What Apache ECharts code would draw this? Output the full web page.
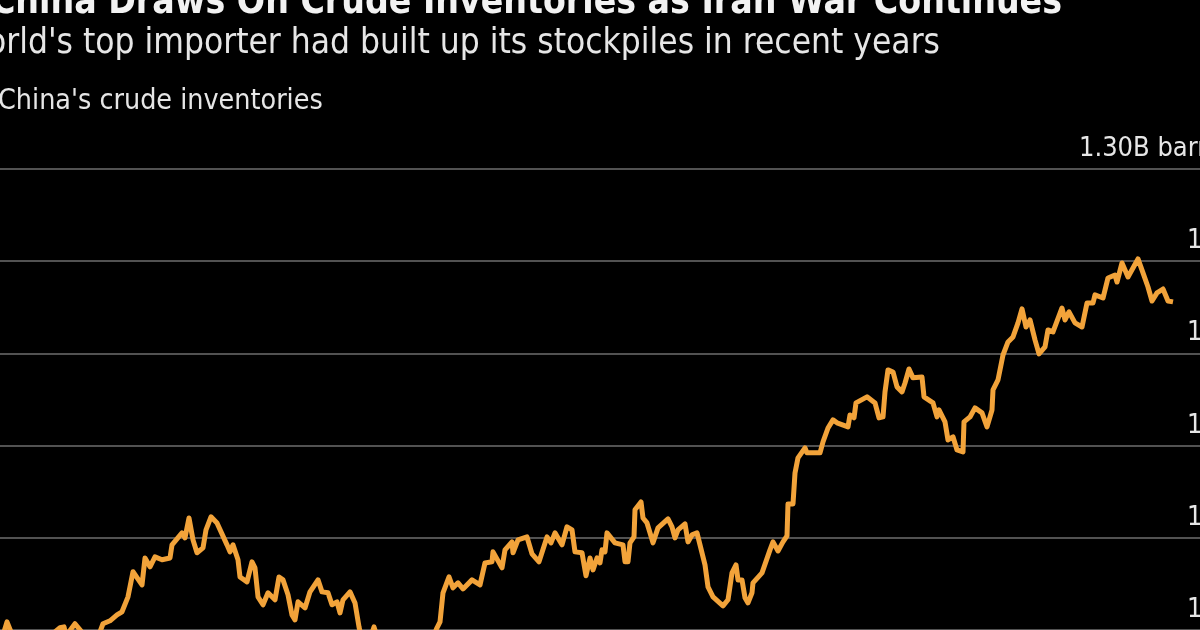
<!DOCTYPE html>
<html lang="en">
<head>
    <meta charset="utf-8">
    <title>China Draws On Crude Inventories</title>
    <script src="https://cdn.jsdelivr.net/npm/echarts@6/dist/echarts.min.js"></script>
    <style>
        html, body { margin: 0; padding: 0; background: #000; overflow: hidden; }
        #main { width: 1200px; height: 630px; }
    </style>
</head>
<body>
    <div id="main"></div>
    <script type="text/javascript">
    var titleText = "China Draws On Crude Inventories as Iran War Continues";
    var subtitleText = "The world's top importer had built up its stockpiles in recent years";
    var seriesName = "China's crude inventories";

    // y axis, million barrels
    var tickValues = [1300, 1250, 1200, 1150, 1100, 1050];
    var tickLabels = ["1.30B barrels", "1.25", "1.20", "1.15", "1.10", "1.05"];

    // days since the start of the series
    var days = [0,4,7,11,20,35,50,60,64,66,75,80,88,97,103,110,117,122,128,133,142,145,150,155,162,170,172,182,185,189,193,197,203,206,211,217,227,230,233,238,240,247,252,255,258,263,268,275,279,283,288,292,295,298,305,310,318,322,328,332,337,340,343,350,355,359,363,370,374,378,395,415,432,437,440,443,449,453,458,463,472,480,485,492,493,502,505,512,513,518,527,532,539,547,551,555,562,567,572,575,582,586,590,593,597,600,602,605,607,615,623,625,628,630,634,635,641,643,647,653,658,668,672,675,678,685,688,692,697,702,705,708,713,723,728,732,736,738,742,745,748,752,753,762,770,773,778,783,787,788,793,795,798,805,807,820,823,828,833,837,848,850,854,856,867,875,879,883,885,888,893,897,902,905,909,913,922,924,933,937,939,945,948,953,957,963,964,970,975,982,987,992,993,998,1003,1008,1013,1018,1022,1026,1030,1035,1039,1045,1048,1053,1062,1065,1069,1075,1082,1087,1093,1095,1103,1108,1115,1117,1122,1128,1138,1143,1148,1152,1157,1163,1168,1173];

    // inventories, million barrels
    var inventories = [1044.6,1048.9,1054.3,1048.9,1044.6,1043.5,1046.7,1051.1,1051.6,1046.7,1053.3,1050,1044.6,1044.6,1053.3,1054.9,1058.1,1059.8,1067.9,1081.5,1074.4,1089,1084.2,1089.6,1088,1089,1096.1,1102.6,1099.9,1110.7,1098.8,1091.8,1094.5,1104.2,1111.3,1108,1096.1,1092.3,1096.1,1088,1078.7,1076,1086.9,1083.6,1067.9,1063.6,1070.1,1066.3,1078.7,1077.1,1069,1058.1,1055.4,1065.2,1061.9,1070.6,1077.1,1070.6,1070.1,1063.6,1065.2,1059.2,1066.3,1070.6,1064.6,1051.6,1041.9,1044.6,1051.6,1044.6,1039.2,1040.2,1044.6,1051.1,1054.3,1070.1,1078.7,1072.8,1075.5,1072.2,1077.1,1074.4,1086.3,1086.9,1092.3,1083.6,1093.4,1097.7,1091.8,1098.8,1100.4,1091.2,1086.9,1100.4,1097.2,1102.6,1096.1,1105.9,1104.2,1092.3,1091.8,1079.3,1089,1082.5,1089,1086.3,1093.4,1092.3,1102.6,1097.2,1096.1,1086.9,1086.9,1097.2,1100.4,1115.1,1119.4,1110.7,1108,1097.2,1105.3,1110.2,1105.9,1099.9,1104.2,1107.5,1097.7,1101.5,1102.6,1091.8,1085.2,1073.3,1067.9,1063,1066.3,1080.9,1085.2,1077.1,1077.1,1067.4,1064.6,1070.1,1075.5,1080.9,1093.4,1097.7,1092.8,1097.7,1101,1118.3,1118.3,1135.1,1143.3,1148.7,1146,1146,1152,1159.5,1163.9,1162.3,1160.1,1166.6,1165,1173.1,1176.4,1173.1,1165,1165.5,1179.1,1191,1189.9,1181.8,1179.1,1183.9,1191.5,1186.7,1187.2,1176.4,1173.1,1165.5,1169.3,1162.8,1153,1154.7,1147.6,1146.5,1162.8,1165.5,1170.4,1167.7,1160.1,1169.3,1180.2,1185.6,1199.1,1206.2,1208.9,1216.5,1224.1,1214.3,1218.1,1207.3,1199.7,1203.5,1212.7,1211.6,1224.6,1218.1,1222.5,1216.5,1214.3,1227.3,1227.3,1231.7,1230,1240.9,1242.5,1238.7,1249,1241.4,1251.2,1243.6,1236,1228.4,1232.8,1234.9,1228.4,1227.9];

    var uiFont = '"DejaVu Sans Condensed", "DejaVu Sans"';
    var lineData = days.map(function (d, i) { return [d, inventories[i]]; });

    var myChart = echarts.init(document.getElementById('main'), null, { renderer: 'canvas' });

    myChart.setOption({
        backgroundColor: '#000',
        animation: false,
        grid: { left: 0, right: -41, top: 169, bottom: -92, outerBoundsMode: 'none', containLabel: false },
        xAxis: {
            type: 'value',
            min: 0,
            max: 1241,
            axisLine: { show: false },
            axisTick: { show: false },
            axisLabel: { show: false },
            splitLine: { show: false }
        },
        yAxis: {
            type: 'value',
            position: 'right',
            min: 1000,
            max: 1300,
            interval: 50,
            axisLine: { show: false },
            axisTick: { show: false },
            splitLine: { lineStyle: { color: '#6e6e6e', width: 1.5 } },
            axisLabel: {
                inside: true,
                margin: 0,
                color: '#e6e6e6',
                fontFamily: uiFont,
                fontSize: 27,
                verticalAlign: 'bottom',
                lineHeight: 40,
                formatter: function (v) {
                    var i = tickValues.indexOf(v);
                    return i < 0 ? '' : tickLabels[i];
                }
            }
        },
        series: [{
            name: seriesName,
            type: 'line',
            data: lineData,
            showSymbol: false,
            clip: false,
            lineStyle: { color: '#F2A33A', width: 5, join: 'round' }
        }],
        graphic: [
            { type: 'text', x: 1062, y: 3, style: { text: titleText, fill: '#f2f2f2', font: 'bold 37px ' + uiFont, textAlign: 'right', textVerticalAlign: 'middle' } },
            { type: 'text', x: 940, y: 44, style: { text: subtitleText, fill: '#e6e6e6', font: '35px ' + uiFont, textAlign: 'right', textVerticalAlign: 'middle' } },
            { type: 'text', x: -2, y: 102, style: { text: seriesName, fill: '#e6e6e6', font: '28.4px ' + uiFont, textAlign: 'left', textVerticalAlign: 'middle' } }
        ]
    });
    </script>
</body>
</html>
